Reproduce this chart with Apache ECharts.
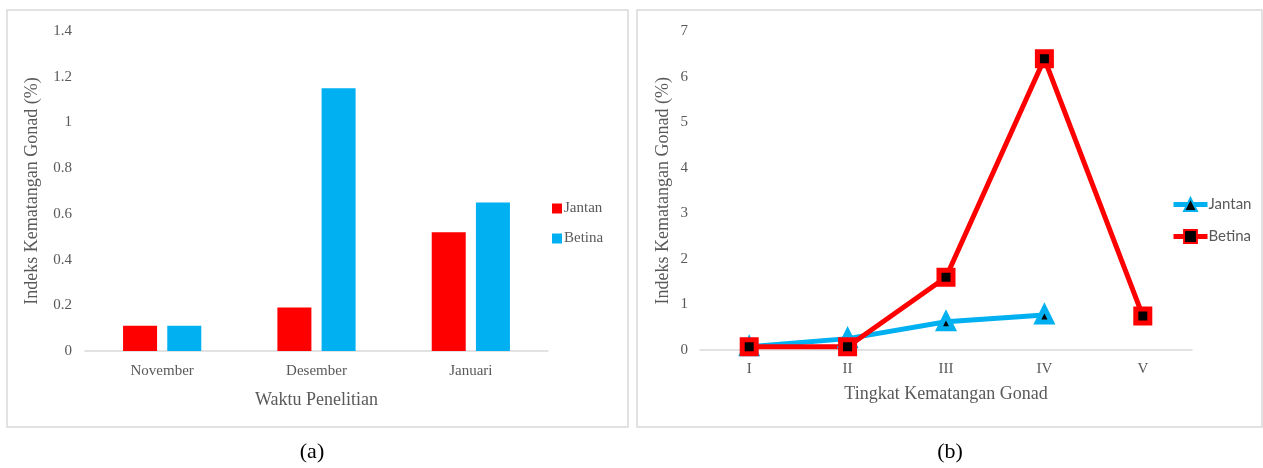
<!DOCTYPE html>
<html>
<head>
<meta charset="utf-8">
<script src="https://cdn.jsdelivr.net/npm/echarts@6/dist/echarts.min.js"></script>
<style>
  html, body { margin: 0; padding: 0; background: #fff; }
  #main { width: 1263px; height: 468px; }
</style>
</head>
<body>
<div id="main"></div>
<script>
  // (a) bulan penelitian
  const months = ['November', 'Desember', 'Januari']
  const barJantan = [0.11, 0.19, 0.52]
  const barBetina = [0.11, 1.15, 0.65]

  // (b) tingkat kematangan gonad
  const stages = ['I', 'II', 'III', 'IV', 'V']
  const lineJantan = [0.07, 0.25, 0.62, 0.77, null]
  const lineBetina = [0.07, 0.07, 1.6, 6.4, 0.75]

  const serif = 'Liberation Serif'
  const grey = '#595959'
  const red = '#ff0000'
  const blue = '#00b0f0'

  const dom = document.getElementById('main')
  const myChart = echarts.init(dom)

  const axisText = { color: grey, fontFamily: serif, fontSize: 15 }
  const nameText = { color: grey, fontFamily: serif, fontSize: 18 }

  myChart.setOption({
    animation: false,
    graphic: [
      { type: 'rect', shape: { x: 7, y: 10, width: 621, height: 417 }, style: { fill: 'none', stroke: '#d9d9d9', lineWidth: 1.5 } },
      { type: 'rect', shape: { x: 637, y: 10, width: 625, height: 417 }, style: { fill: 'none', stroke: '#d9d9d9', lineWidth: 1.5 } },
      { type: 'text', x: 312, y: 452, style: { text: '(a)', fill: '#000', font: '22px "Liberation Serif"', textAlign: 'center', textVerticalAlign: 'middle' } },
      { type: 'text', x: 950, y: 452, style: { text: '(b)', fill: '#000', font: '22px "Liberation Serif"', textAlign: 'center', textVerticalAlign: 'middle' } }
    ],
    grid: [
      { left: 85, right: 715, top: 31, bottom: 117 },
      { left: 700, right: 71, top: 31.5, bottom: 118 }
    ],
    legend: [
      {
        orient: 'vertical',
        left: 547,
        top: 196,
        itemGap: 15,
        itemWidth: 10,
        itemHeight: 10,
        icon: 'rect',
        data: ['Jantan', 'Betina'],
        textStyle: { color: grey, fontFamily: serif, fontSize: 15, padding: [0, 0, 0, -3] }
      },
      {
        orient: 'vertical',
        left: 1166,
        top: 192,
        itemGap: 17,
        itemWidth: 34,
        itemHeight: 16,
        lineStyle: { width: 5 },
        data: ['Jantan ', 'Betina '],
        formatter: (name) => name.trim(),
        textStyle: { color: grey, fontFamily: 'Lato', fontSize: 15, padding: [0, 0, 0, -4] }
      }
    ],
    xAxis: [
      {
        gridIndex: 0,
        type: 'category',
        data: months,
        name: 'Waktu Penelitian',
        nameLocation: 'middle',
        nameGap: 40,
        nameTextStyle: nameText,
        axisLine: { lineStyle: { color: '#d9d9d9', width: 1.5 } },
        axisTick: { show: false },
        axisLabel: Object.assign({ margin: 13 }, axisText)
      },
      {
        gridIndex: 1,
        type: 'category',
        data: stages,
        boundaryGap: true,
        name: 'Tingkat Kematangan Gonad',
        nameLocation: 'middle',
        nameGap: 35,
        nameTextStyle: nameText,
        axisLine: { lineStyle: { color: '#d9d9d9', width: 1.5 } },
        axisTick: { show: false },
        axisLabel: Object.assign({ margin: 12 }, axisText)
      }
    ],
    yAxis: [
      {
        gridIndex: 0,
        type: 'value',
        min: 0,
        max: 1.4,
        interval: 0.2,
        name: 'Indeks Kematangan Gonad (%)',
        nameLocation: 'middle',
        nameGap: 44,
        nameTextStyle: nameText,
        axisLine: { show: false },
        splitLine: { show: false },
        axisLabel: Object.assign({ margin: 13 }, axisText)
      },
      {
        gridIndex: 1,
        type: 'value',
        min: 0,
        max: 7,
        interval: 1,
        name: 'Indeks Kematangan Gonad (%)',
        nameLocation: 'middle',
        nameGap: 28,
        nameTextStyle: nameText,
        axisLine: { show: false },
        splitLine: { show: false },
        axisLabel: Object.assign({ margin: 12 }, axisText)
      }
    ],
    series: [
      {
        name: 'Jantan',
        type: 'bar',
        xAxisIndex: 0,
        yAxisIndex: 0,
        data: barJantan,
        barWidth: 34,
        barGap: '30%',
        itemStyle: { color: red }
      },
      {
        name: 'Betina',
        type: 'bar',
        xAxisIndex: 0,
        yAxisIndex: 0,
        data: barBetina,
        barWidth: 34,
        barGap: '30%',
        itemStyle: { color: blue }
      },
      {
        name: 'Jantan ',
        type: 'line',
        xAxisIndex: 1,
        yAxisIndex: 1,
        data: lineJantan,
        symbol: 'triangle',
        symbolSize: 14,
        lineStyle: { color: blue, width: 5 },
        itemStyle: { color: '#000', borderColor: blue, borderWidth: 5 }
      },
      {
        name: 'Betina ',
        type: 'line',
        xAxisIndex: 1,
        yAxisIndex: 1,
        data: lineBetina,
        symbol: 'rect',
        symbolSize: 14,
        lineStyle: { color: red, width: 5 },
        itemStyle: { color: '#000', borderColor: red, borderWidth: 5 }
      }
    ]
  })
</script>
</body>
</html>
